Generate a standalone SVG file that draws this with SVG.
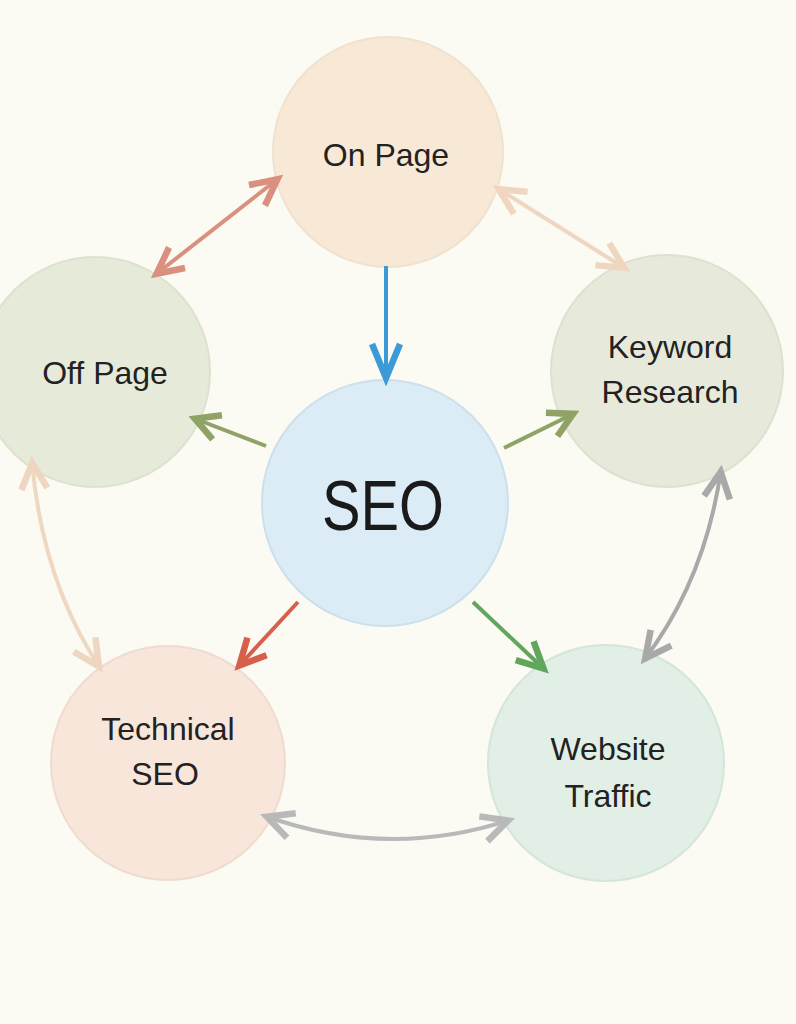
<svg xmlns="http://www.w3.org/2000/svg" width="796" height="1024" viewBox="0 0 796 1024">
<style>
.lbl{font-family:"Liberation Sans",Arial,sans-serif;font-size:32px;fill:#222;text-anchor:middle}
.big{font-family:"Liberation Sans",Arial,sans-serif;font-size:70px;fill:#1a1a1a;text-anchor:middle}
.node{stroke-width:2}
.con{fill:none;stroke-width:4;stroke-linecap:butt}
.mk{fill:none;stroke-width:6.5;stroke-linejoin:miter;stroke-linecap:butt}
</style>
<defs>
<marker id="mBlue" markerUnits="userSpaceOnUse" viewBox="-44 -22 50 44" refX="0" refY="0" markerWidth="50" markerHeight="44" orient="auto-start-reverse"><path class="mk" stroke="#3d9ad8" d="M-36,-14 L-2,0 L-36,14"/></marker>
<marker id="mSalmon" markerUnits="userSpaceOnUse" viewBox="-44 -22 50 44" refX="0" refY="0" markerWidth="50" markerHeight="44" orient="auto-start-reverse"><path class="mk" stroke="#d9907f" d="M-28,-13 L-2,0 L-28,13"/></marker>
<marker id="mPeach" markerUnits="userSpaceOnUse" viewBox="-44 -22 50 44" refX="0" refY="0" markerWidth="50" markerHeight="44" orient="auto-start-reverse"><path class="mk" stroke="#efd6c0" d="M-28,-13 L-2,0 L-28,13"/></marker>
<marker id="mOlive" markerUnits="userSpaceOnUse" viewBox="-44 -22 50 44" refX="0" refY="0" markerWidth="50" markerHeight="44" orient="auto-start-reverse"><path class="mk" stroke="#8fa366" d="M-26,-13 L-2,0 L-26,13"/></marker>
<marker id="mRed" markerUnits="userSpaceOnUse" viewBox="-44 -22 50 44" refX="0" refY="0" markerWidth="50" markerHeight="44" orient="auto-start-reverse"><path class="mk" stroke="#d6604c" d="M-28,-13 L-2,0 L-28,13"/></marker>
<marker id="mGreen" markerUnits="userSpaceOnUse" viewBox="-44 -22 50 44" refX="0" refY="0" markerWidth="50" markerHeight="44" orient="auto-start-reverse"><path class="mk" stroke="#62a65e" d="M-28,-13 L-2,0 L-28,13"/></marker>
<marker id="mGray" markerUnits="userSpaceOnUse" viewBox="-44 -22 50 44" refX="0" refY="0" markerWidth="50" markerHeight="44" orient="auto-start-reverse"><path class="mk" stroke="#a9a9a9" d="M-28,-13 L-2,0 L-28,13"/></marker>
<marker id="mGray2" markerUnits="userSpaceOnUse" viewBox="-44 -22 50 44" refX="0" refY="0" markerWidth="50" markerHeight="44" orient="auto-start-reverse"><path class="mk" stroke="#b9b9b9" d="M-28,-13 L-2,0 L-28,13"/></marker>
</defs>
<rect width="796" height="1024" fill="#fbfaf3"/>

<g id="on-page">
<circle class="node" cx="388" cy="152" r="115" fill="#f8e9d6" stroke="#efe2cf"/>
<text class="lbl" x="386" y="166">On Page</text>
</g>
<g id="off-page">
<circle class="node" cx="95" cy="372" r="115" fill="#e6ead8" stroke="#dde2cf"/>
<text class="lbl" x="105" y="384">Off Page</text>
</g>
<g id="keyword-research">
<circle class="node" cx="667" cy="371" r="116" fill="#e7eadb" stroke="#dde1d0"/>
<text class="lbl" x="670" y="358">Keyword</text>
<text class="lbl" x="670" y="403">Research</text>
</g>
<g id="seo">
<circle class="node" cx="385" cy="503" r="123" fill="#dcecf6" stroke="#cce0ec"/>
<text class="big" x="383" y="530" textLength="122" lengthAdjust="spacingAndGlyphs">SEO</text>
</g>
<g id="technical-seo">
<circle class="node" cx="168" cy="763" r="117" fill="#f8e6db" stroke="#efdccf"/>
<text class="lbl" x="168" y="740">Technical</text>
<text class="lbl" x="165" y="785">SEO</text>
</g>
<g id="website-traffic">
<circle class="node" cx="606" cy="763" r="118" fill="#e1efe6" stroke="#d4e5da"/>
<text class="lbl" x="608" y="760">Website</text>
<text class="lbl" x="608" y="807">Traffic</text>
</g>

<g id="connectors">
<line class="con" stroke="#3d9ad8" x1="386" y1="266" x2="386" y2="380" marker-end="url(#mBlue)"/>
<line class="con" stroke="#d9907f" x1="155" y1="275" x2="279" y2="178" marker-start="url(#mSalmon)" marker-end="url(#mSalmon)"/>
<line class="con" stroke="#efd6c0" x1="497" y1="188" x2="626" y2="269" marker-start="url(#mPeach)" marker-end="url(#mPeach)"/>
<line class="con" stroke="#8fa366" x1="266" y1="446" x2="193" y2="418" marker-end="url(#mOlive)"/>
<line class="con" stroke="#8fa366" x1="504" y1="448" x2="575" y2="413" marker-end="url(#mOlive)"/>
<line class="con" stroke="#d6604c" x1="298" y1="602" x2="238" y2="667" marker-end="url(#mRed)"/>
<line class="con" stroke="#62a65e" x1="473" y1="602" x2="545" y2="670" marker-end="url(#mGreen)"/>
<path class="con" stroke="#a9a9a9" d="M721,470 Q705,580 644,660" marker-start="url(#mGray)" marker-end="url(#mGray)"/>
<path class="con" stroke="#eed8c2" d="M32,461 Q42,580 100,668" marker-start="url(#mPeach)" marker-end="url(#mPeach)"/>
<path class="con" stroke="#b9b9b9" d="M265,816 Q388,860 510,820" marker-start="url(#mGray2)" marker-end="url(#mGray2)"/>
</g>
</svg>
